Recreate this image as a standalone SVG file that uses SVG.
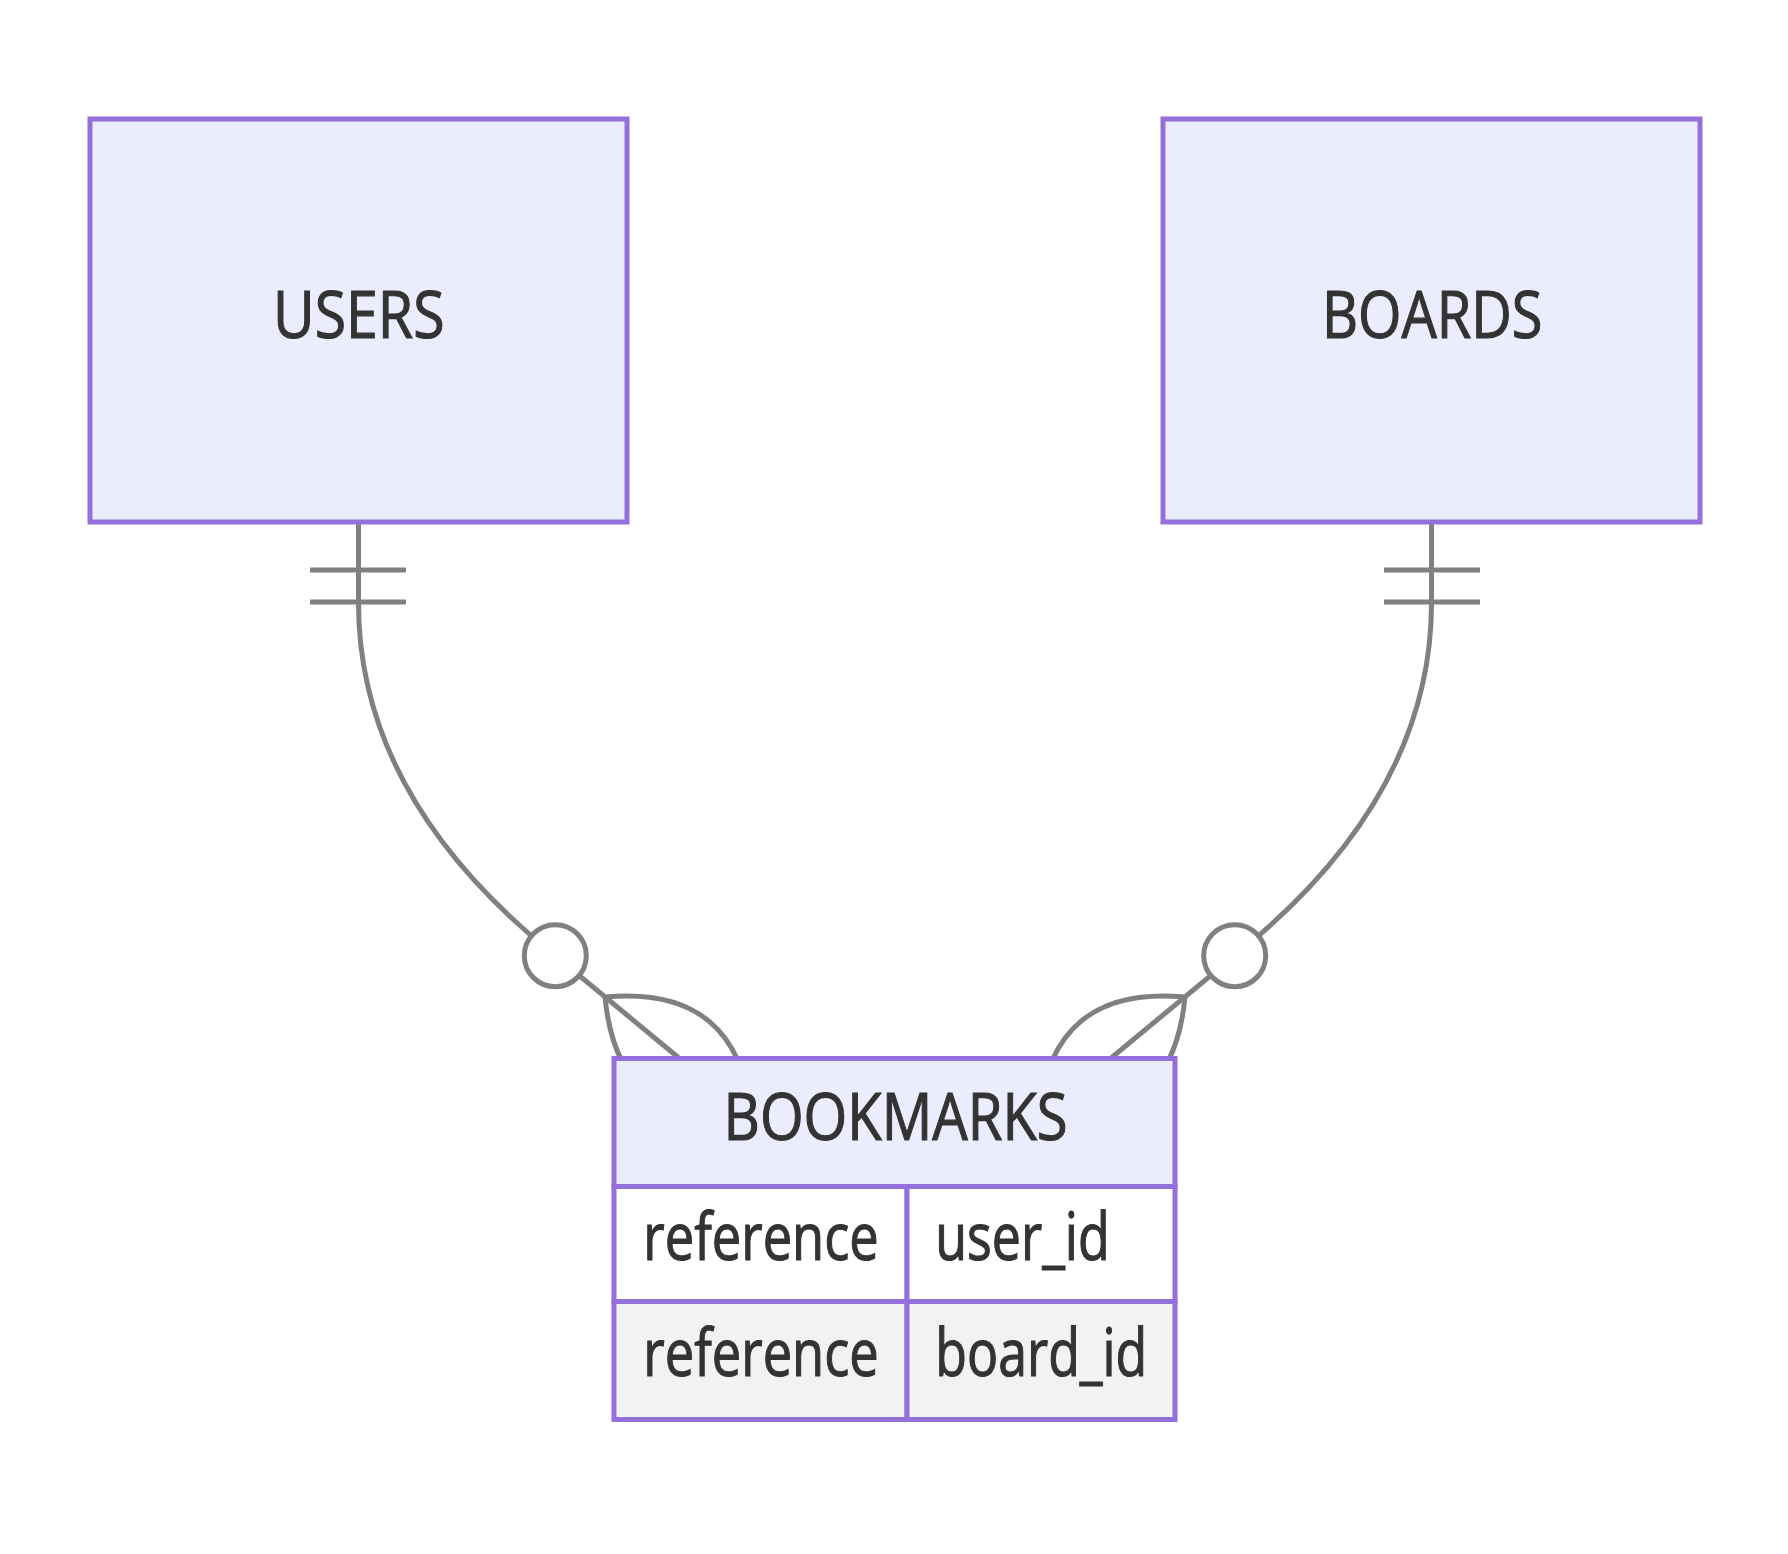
<svg xmlns="http://www.w3.org/2000/svg" width="1788" height="1554" viewBox="0 0 1788 1554">
<style>
.box{fill:#ECECFF;stroke:#9370DB;stroke-width:5}
.odd{fill:#FFFFFF;stroke:#9370DB;stroke-width:5}
.even{fill:#F2F2F2;stroke:#9370DB;stroke-width:5}
.edge{fill:none;stroke:#808080;stroke-width:5}
.dot{fill:#FFFFFF;stroke:#808080;stroke-width:5}
text{font-family:"Open Sans","DejaVu Sans",sans-serif;font-size:66px;fill:#333333;stroke:#333333;stroke-width:1.2px}
</style>
<rect x="0" y="0" width="1788" height="1554" fill="#FFFFFF"/>
<g id="connectors">
  <g id="users-bookmarks">
    <path class="edge" d="M358.5,522 L358.5,603 C358.5,750 442,865 555.3,955.7 L678.3,1057.5"/>
    <path class="edge" d="M310,570 H406 M310,602 H406"/>
    <path class="edge" d="M605,997 Q739.3,984.3 752,1118.7 Q617.7,1131.3 605,997"/>
    <circle class="dot" cx="555.3" cy="955.7" r="31"/>
  </g>
  <g id="boards-bookmarks">
    <path class="edge" d="M1431.5,522 L1431.5,603 C1431.5,750 1348,865 1234.7,955.7 L1111.7,1057.5"/>
    <path class="edge" d="M1384,570 H1480 M1384,602 H1480"/>
    <path class="edge" d="M1185,997 Q1050.7,984.3 1038,1118.7 Q1172.3,1131.3 1185,997"/>
    <circle class="dot" cx="1234.7" cy="955.7" r="31"/>
  </g>
</g>
<g id="USERS">
  <rect class="box" x="90" y="119" width="537" height="403"/>
  <text x="273" y="338" textLength="171.5" lengthAdjust="spacingAndGlyphs">USERS</text>
</g>
<g id="BOARDS">
  <rect class="box" x="1163" y="119" width="537" height="403"/>
  <text x="1322" y="338" textLength="220.5" lengthAdjust="spacingAndGlyphs">BOARDS</text>
</g>
<g id="BOOKMARKS">
  <rect class="box" x="614" y="1058.5" width="561" height="128"/>
  <text x="723.6" y="1140" textLength="344" lengthAdjust="spacingAndGlyphs">BOOKMARKS</text>
  <rect class="odd" x="614" y="1186.5" width="293" height="115"/>
  <rect class="odd" x="907" y="1186.5" width="268" height="115"/>
  <rect class="even" x="614" y="1301.5" width="293" height="118"/>
  <rect class="even" x="907" y="1301.5" width="268" height="118"/>
  <text x="643.3" y="1260" textLength="235.5" lengthAdjust="spacingAndGlyphs">reference</text>
  <text x="935.3" y="1260" textLength="174.4" lengthAdjust="spacingAndGlyphs">user_id</text>
  <text x="643.3" y="1376" textLength="235.5" lengthAdjust="spacingAndGlyphs">reference</text>
  <text x="935.3" y="1376" textLength="212" lengthAdjust="spacingAndGlyphs">board_id</text>
</g>
</svg>
